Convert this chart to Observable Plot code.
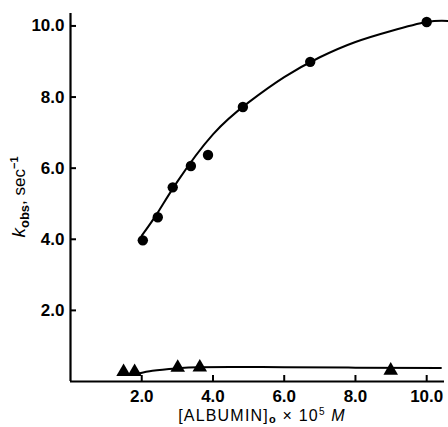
<!DOCTYPE html>
<html>
<head>
<meta charset="utf-8">
<script src="https://cdn.jsdelivr.net/npm/d3@7"></script>
<script src="https://cdn.jsdelivr.net/npm/@observablehq/plot@0.6"></script>
<style>
  html, body { margin: 0; padding: 0; background: #fff; }
  svg { font-family: "Liberation Sans", Arial, sans-serif; }
</style>
</head>
<body>
<div id="chart"></div>
<script>
// Albumin concentration (x 10^5 M) and k_obs (sec^-1)
const circleX = [2.03, 2.45, 2.87, 3.38, 3.86, 4.84, 6.73, 10.0];
const circleY = [3.97, 4.62, 5.46, 6.06, 6.37, 7.72, 8.99, 10.11];
const triangleX = [1.49, 1.80, 3.01, 3.63, 8.99];
const triangleY = [0.27, 0.27, 0.39, 0.40, 0.31];
// fitted curves
const curveUpperX = [2.0, 2.45, 3.0, 4.0, 5.0, 6.0, 7.0, 8.0, 9.0, 10.0, 10.6];
const curveUpperY = [4.1, 4.75, 5.62, 6.95, 7.85, 8.56, 9.12, 9.55, 9.86, 10.11, 10.14];
const curveLowerX = [1.88, 2.3, 3.0, 3.6, 4.5, 6.0, 8.0, 10.4];
const curveLowerY = [0.22, 0.3, 0.37, 0.40, 0.41, 0.40, 0.39, 0.38];
const xTicks = [2, 4, 6, 8, 10];
const yTicks = [2, 4, 6, 8, 10];

const circles = circleX.map((x, i) => ({x, y: circleY[i]}));
const triangles = triangleX.map((x, i) => ({x, y: triangleY[i]}));
const upper = curveUpperX.map((x, i) => ({x, y: curveUpperY[i]}));
const lower = curveLowerX.map((x, i) => ({x, y: curveLowerY[i]}));

const chart = Plot.plot({
  width: 448,
  height: 427,
  marginLeft: 70,
  marginRight: 4,
  marginTop: 13,
  marginBottom: 46,
  style: {fontFamily: "'Liberation Sans', Arial, sans-serif", background: "#fff", color: "#000"},
  x: {domain: [0, 10.5]},
  y: {domain: [0, 10.35]},
  marks: [
    Plot.axisX({ticks: xTicks, tickFormat: d => d.toFixed(1), tickSize: -6, tickPadding: 14,
      strokeWidth: 2, fontSize: 17, fontWeight: "bold", label: null, letterSpacing: 1.5}),
    Plot.axisY({ticks: yTicks, tickFormat: d => d.toFixed(1), tickSize: -6, tickPadding: 12,
      strokeWidth: 2, fontSize: 17, fontWeight: "bold", label: null, letterSpacing: 1.5}),
    Plot.ruleY([0], {stroke: "#000", strokeWidth: 2.2}),
    Plot.ruleX([0], {stroke: "#000", strokeWidth: 2.2}),
    Plot.line(upper, {x: "x", y: "y", curve: "natural", stroke: "#000", strokeWidth: 2}),
    Plot.line(lower, {x: "x", y: "y", curve: "monotone-x", stroke: "#000", strokeWidth: 2}),
    Plot.dot(circles, {x: "x", y: "y", r: 5.2, fill: "#000", stroke: "none"}),
    Plot.dot(triangles, {x: "x", y: "y", r: 5.4, symbol: "triangle", fill: "#000", stroke: "none"})
  ]
});

const svg = d3.select(chart);
// x-axis label
const xl = svg.append("text")
  .attr("x", 262).attr("y", 421)
  .attr("text-anchor", "middle")
  .attr("font-size", 16)
  .attr("letter-spacing", 1.2)
  .attr("fill", "#000");
xl.append("tspan").text("[ALBUMIN]");
xl.append("tspan").attr("font-size", 11).attr("dy", 2).attr("font-weight", "bold").text("o");
xl.append("tspan").attr("dy", -2).text(" × 10");
xl.append("tspan").attr("font-size", 10).attr("dy", -6).text("5");
xl.append("tspan").attr("dy", 6).attr("font-style", "italic").text(" M");

// y-axis label
const yl = svg.append("text")
  .attr("transform", "translate(25,197) rotate(-90)")
  .attr("text-anchor", "middle")
  .attr("font-size", 17)
  .attr("font-weight", "bold")
  .attr("fill", "#000");
yl.append("tspan").attr("font-style", "italic").attr("font-size", 19).attr("font-weight", "normal").text("k");
yl.append("tspan").attr("font-size", 13).attr("dy", 4).text("obs");
yl.append("tspan").attr("dy", -4).attr("font-weight", "normal").text(", sec");
yl.append("tspan").attr("font-size", 11).attr("dy", -7).text("−1");

document.getElementById("chart").appendChild(chart);
</script>
</body>
</html>
